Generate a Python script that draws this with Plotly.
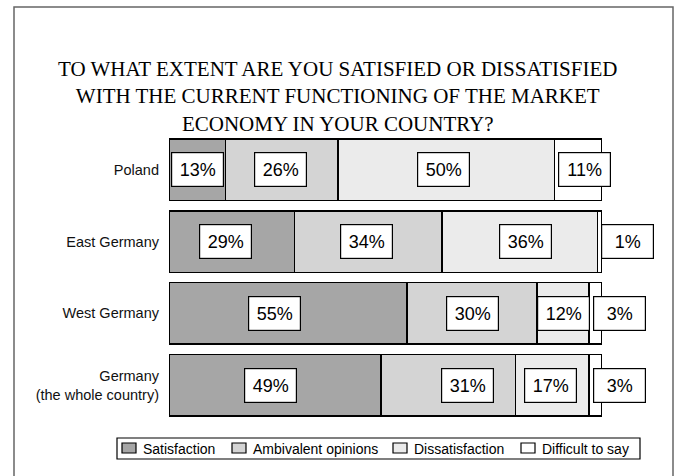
import plotly.graph_objects as go

# ---- data ----
title_text = ("TO WHAT EXTENT ARE YOU SATISFIED OR DISSATISFIED<br>"
              "WITH THE CURRENT FUNCTIONING OF THE MARKET<br>"
              "ECONOMY IN YOUR COUNTRY?")
categories = ["Poland", "East Germany", "West Germany", "Germany<br>(the whole country)"]
series_names = ["Satisfaction", "Ambivalent opinions", "Dissatisfaction", "Difficult to say"]
satisfaction = [13, 29, 55, 49]
ambivalent = [26, 34, 30, 31]
dissatisfaction = [50, 36, 12, 17]
difficult = [11, 1, 3, 3]

# ---- style ----
colors = ["#a6a6a6", "#d4d4d4", "#ebebeb", "#ffffff"]
# label box horizontal offsets (in % units) relative to segment centre
label_offsets = [
    [0, -0.3, -0.7, 1.5],
    [-1.5, -0.5, 1.3, 6.3],
    [-3.1, 0, 0, 5.5],
    [-1.0, 4.5, -0.5, 5.5],
]
legend_symbol_px = [122, 232, 393, 521]   # left edge of legend swatches (px)

series = [satisfaction, ambivalent, dissatisfaction, difficult]

W, H = 678, 476
ml, mr, mt, mb = 169, 76, 134, 55
ph = H - mt - mb
pw = W - ml - mr


def px_to_paper_x(px):
    return (px - ml) / pw


def px_to_paper_y(py):
    return (H - mb - py) / ph


fig = go.Figure()
for name, vals, col in zip(series_names, series, colors):
    fig.add_trace(go.Bar(
        y=categories, x=vals, name=name, orientation="h",
        marker=dict(color=col, line=dict(color="#000000", width=1.5)),
        hoverinfo="skip", showlegend=False,
    ))

annotations = []
for ci, cat in enumerate(categories):
    start = 0
    for si, vals in enumerate(series):
        v = vals[ci]
        centre = start + v / 2 + label_offsets[ci][si]
        annotations.append(dict(
            x=centre / 100, xref="paper", y=cat, yref="y",
            text=f"{v}%", showarrow=False,
            font=dict(family="Liberation Sans, Arial", size=18, color="#000000"),
            bgcolor="#ffffff", bordercolor="#000000", borderwidth=1.2,
            borderpad=4, width=43, height=25,
            xanchor="center", yanchor="middle",
        ))
        start += v

# title
annotations.append(dict(
    x=px_to_paper_x(337), xref="paper", y=px_to_paper_y(96), yref="paper",
    text=title_text, showarrow=False,
    font=dict(family="Liberation Serif, Times New Roman", size=21, color="#000000"),
    xanchor="center", yanchor="middle", align="center",
))

shapes = [dict(
    type="rect", xref="paper", yref="paper",
    x0=px_to_paper_x(14), x1=px_to_paper_x(673),
    y0=px_to_paper_y(490), y1=px_to_paper_y(7),
    line=dict(color="#666666", width=1.5), fillcolor="rgba(0,0,0,0)", layer="below",
)]

# custom legend
shapes.append(dict(
    type="rect", xref="paper", yref="paper",
    x0=px_to_paper_x(117), x1=px_to_paper_x(640),
    y0=px_to_paper_y(459), y1=px_to_paper_y(438),
    line=dict(color="#000000", width=1.2), fillcolor="#ffffff",
))
for name, col, sx in zip(series_names, colors, legend_symbol_px):
    shapes.append(dict(
        type="rect", xref="paper", yref="paper",
        x0=px_to_paper_x(sx), x1=px_to_paper_x(sx + 14),
        y0=px_to_paper_y(453), y1=px_to_paper_y(443),
        line=dict(color="#000000", width=1.2), fillcolor=col,
    ))
    annotations.append(dict(
        x=px_to_paper_x(sx + 19), xref="paper", y=px_to_paper_y(449), yref="paper",
        text=name, showarrow=False, xanchor="left", yanchor="middle",
        font=dict(family="Liberation Sans, Arial", size=14, color="#000000"),
    ))

fig.update_layout(
    width=W, height=H,
    margin=dict(l=ml, r=mr, t=mt, b=mb),
    barmode="stack", bargap=0.14,
    paper_bgcolor="#ffffff", plot_bgcolor="#ffffff",
    showlegend=False,
    annotations=annotations,
    shapes=shapes,
    xaxis=dict(range=[0, 100], visible=False, fixedrange=True),
    yaxis=dict(
        categoryorder="array", categoryarray=categories, autorange="reversed",
        showline=False, showgrid=False, zeroline=False, ticks="",
        ticklabelstandoff=9,
        tickfont=dict(family="Liberation Sans, Arial", size=14.5, color="#111111"),
        fixedrange=True,
    ),
)

fig.write_html("out.html", config={"displayModeBar": False},
               post_script="document.body.style.margin='0px';")
